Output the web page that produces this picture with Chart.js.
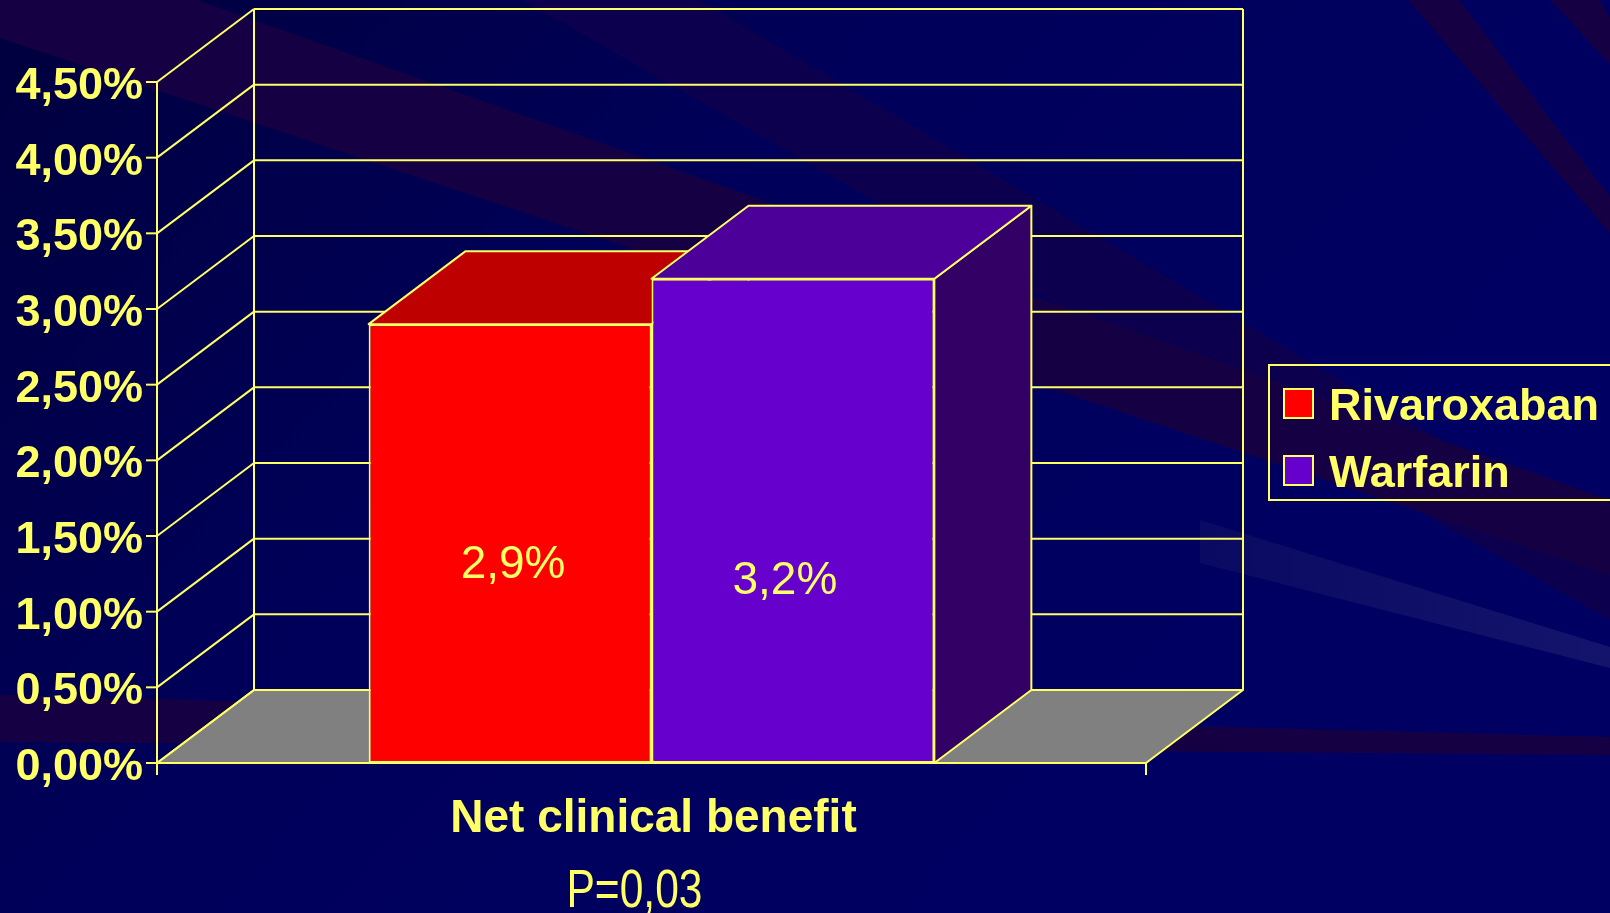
<!DOCTYPE html>
<html lang="en">
  <head>
    <meta charset="UTF-8" />
    <title>Net clinical benefit</title>
    <script src="https://cdn.jsdelivr.net/npm/chart.js@4.4.1/dist/chart.umd.min.js"></script>
    <style>
      html,
      body {
        margin: 0;
        padding: 0;
        background: #000060;
        overflow: hidden;
      }
    </style>
  </head>
  <body>
    <canvas id="benefit-chart" width="1610" height="913"></canvas>

    <script>
      // chart data
      const categories = ["Net clinical benefit"];
      const seriesNames = ["Rivaroxaban", "Warfarin"];
      const rivaroxaban = [2.9];
      const warfarin = [3.2];
      const valueLabels = ["2,9%", "3,2%"];
      const yTicks = [0, 0.5, 1, 1.5, 2, 2.5, 3, 3.5, 4, 4.5];
      const pValue = "P=0,03";

      // look
      const YELLOW = "#FFFF66";
      const FONT = '"Liberation Sans", Arial, Helvetica, sans-serif';
      const DEPTH_X = 97;
      const DEPTH_Y = 73;
      const faces = [
        { front: "#FF0000", top: "#BE0000", side: "#800000" },
        { front: "#6600CC", top: "#4C0099", side: "#330066" },
      ];

      const fmtTick = (v) => v.toFixed(2).replace(".", ",") + "%";

      function poly(ctx, pts, fill) {
        ctx.beginPath();
        ctx.moveTo(pts[0][0], pts[0][1]);
        for (let i = 1; i < pts.length; i++) ctx.lineTo(pts[i][0], pts[i][1]);
        ctx.closePath();
        if (fill) {
          ctx.fillStyle = fill;
          ctx.fill();
        }
      }

      function line(ctx, x1, y1, x2, y2) {
        ctx.beginPath();
        ctx.moveTo(x1, y1);
        ctx.lineTo(x2, y2);
        ctx.stroke();
      }

      // slide background with the diagonal streaks
      function drawBackdrop(ctx, w, h) {
        const g = ctx.createLinearGradient(0, 0, w * 0.6, h);
        g.addColorStop(0, "#00003E");
        g.addColorStop(0.5, "#00005A");
        g.addColorStop(1, "#000062");
        ctx.fillStyle = g;
        ctx.fillRect(0, 0, w, h);

        poly(ctx, [[640, 0], [700, 0], [1610, 540], [1610, 620], [1031, 290], [522, 0]], "#0C004E");
        const purple = "#150044";
        poly(ctx, [[0, 0], [197, 0], [1610, 500], [1610, 575], [0, 38]], purple);
        poly(ctx, [[1408, 0], [1459, 0], [1610, 197], [1610, 233]], purple);
        poly(ctx, [[1550, 0], [1600, 0], [1610, 18], [1610, 64]], purple);
        poly(ctx, [[0, 695], [1610, 737], [1610, 755], [0, 742]], purple);

        const lg = ctx.createLinearGradient(1200, 0, 1610, 0);
        lg.addColorStop(0, "#0A0A62");
        lg.addColorStop(1, "#14146C");
        poly(ctx, [[1200, 520], [1610, 647], [1610, 668], [1200, 563]], lg);
      }

      const box3d = {
        id: "box3d",
        beforeDraw(chart) {
          drawBackdrop(chart.ctx, chart.width, chart.height);
        },
        beforeDatasetsDraw(chart) {
          const { ctx, chartArea: a } = chart;
          const y = chart.scales.y;
          const L = a.left,
            R = a.right,
            B = a.bottom;
          const top = y.getPixelForValue(yTicks[yTicks.length - 1]);

          ctx.save();
          ctx.strokeStyle = YELLOW;
          ctx.lineWidth = 2;
          ctx.lineJoin = "round";

          // floor
          poly(
            ctx,
            [
              [L, B],
              [R, B],
              [R + DEPTH_X, B - DEPTH_Y],
              [L + DEPTH_X, B - DEPTH_Y],
            ],
            "#808080"
          );
          ctx.stroke();

          // back wall grid and the side diagonals
          yTicks.forEach((v) => {
            const py = y.getPixelForValue(v);
            line(ctx, L + DEPTH_X, py - DEPTH_Y, R + DEPTH_X, py - DEPTH_Y);
            line(ctx, L, py, L + DEPTH_X, py - DEPTH_Y);
          });
          line(ctx, L + DEPTH_X, top - DEPTH_Y, L + DEPTH_X, B - DEPTH_Y);
          line(ctx, R + DEPTH_X, top - DEPTH_Y, R + DEPTH_X, B - DEPTH_Y);

          // top and right faces of the bars
          chart.data.datasets.forEach((ds, i) => {
            chart.getDatasetMeta(i).data.forEach((bar) => {
              const p = bar.getProps(["x", "y", "base", "width"]);
              const l = p.x - p.width / 2,
                r = p.x + p.width / 2;
              poly(
                ctx,
                [
                  [r, p.y],
                  [r + DEPTH_X, p.y - DEPTH_Y],
                  [r + DEPTH_X, p.base - DEPTH_Y],
                  [r, p.base],
                ],
                faces[i].side
              );
              ctx.stroke();
              poly(
                ctx,
                [
                  [l, p.y],
                  [r, p.y],
                  [r + DEPTH_X, p.y - DEPTH_Y],
                  [l + DEPTH_X, p.y - DEPTH_Y],
                ],
                faces[i].top
              );
              ctx.stroke();
            });
          });
          ctx.restore();
        },
        afterDatasetsDraw(chart) {
          const { ctx, chartArea: a } = chart;
          const y = chart.scales.y;
          const x = chart.scales.x;
          const L = a.left,
            R = a.right,
            B = a.bottom;
          const top = y.getPixelForValue(yTicks[yTicks.length - 1]);

          ctx.save();
          ctx.strokeStyle = YELLOW;
          ctx.fillStyle = YELLOW;
          ctx.lineWidth = 2;

          // front axis
          line(ctx, L, top, L, B + 12);
          line(ctx, L, B, R, B);
          line(ctx, R, B, R, B + 12);

          ctx.font = "bold 45px " + FONT;
          ctx.textAlign = "right";
          ctx.textBaseline = "alphabetic";
          yTicks.forEach((v) => {
            const py = y.getPixelForValue(v);
            line(ctx, L - 11, py, L, py);
            ctx.fillText(fmtTick(v), L - 14, py + 17);
          });

          // value labels inside the bars
          const labelSpots = [
            { dx: 3, at: 1.22 },
            { dx: -8, at: 1.12 },
          ];
          ctx.font = "46px " + FONT;
          ctx.textAlign = "center";
          chart.data.datasets.forEach((ds, i) => {
            const bar = chart.getDatasetMeta(i).data[0];
            ctx.fillText(
              valueLabels[i],
              bar.x + labelSpots[i].dx,
              y.getPixelForValue(labelSpots[i].at)
            );
          });

          // category and p-value
          const cx = x.getPixelForValue(0);
          ctx.font = "bold 46px " + FONT;
          ctx.fillText(categories[0], cx + 2, B + 69);

          ctx.font = "54px " + FONT;
          const pw = ctx.measureText(pValue).width;
          ctx.save();
          ctx.translate(cx - 17, B + 144);
          ctx.scale(136 / pw, 1);
          ctx.fillText(pValue, 0, 0);
          ctx.restore();

          // legend
          ctx.lineWidth = 2;
          ctx.strokeRect(1269, 365, 400, 135);
          ctx.font = "bold 45px " + FONT;
          ctx.textAlign = "left";
          chart.data.datasets.forEach((ds, i) => {
            const sy = 389 + i * 67;
            ctx.fillStyle = ds.backgroundColor;
            ctx.fillRect(1284, sy, 29, 29);
            ctx.strokeRect(1284, sy, 29, 29);
            ctx.fillStyle = YELLOW;
            ctx.fillText(ds.label, 1329, sy + 31);
          });
          ctx.restore();
        },
      };

      const benefitChart = new Chart(document.getElementById("benefit-chart"), {
        type: "bar",
        data: {
          labels: categories,
          datasets: [
            {
              label: seriesNames[0],
              data: rivaroxaban,
              backgroundColor: faces[0].front,
            },
            {
              label: seriesNames[1],
              data: warfarin,
              backgroundColor: faces[1].front,
            },
          ],
        },
        options: {
          responsive: false,
          animation: false,
          layout: {
            padding: { left: 157, right: 464, top: 82, bottom: 150 },
          },
          datasets: {
            bar: {
              borderColor: YELLOW,
              borderWidth: 2,
              borderSkipped: false,
              categoryPercentage: 0.572,
              barPercentage: 1,
            },
          },
          scales: {
            x: { display: false, offset: true },
            y: { display: false, min: 0, max: 4.5 },
          },
          plugins: {
            legend: { display: false },
            tooltip: { enabled: false },
          },
        },
        plugins: [box3d],
      });
    </script>
  </body>
</html>
